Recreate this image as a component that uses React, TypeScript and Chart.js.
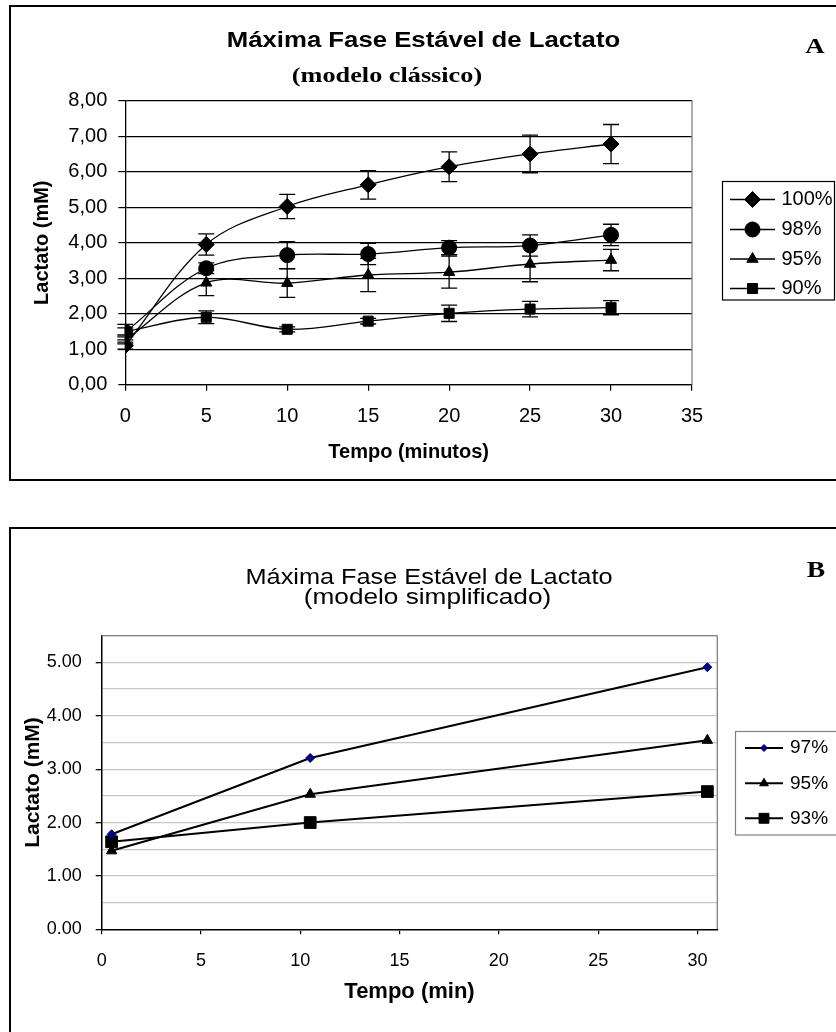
import React, { useEffect, useRef } from 'react';
import { Chart, registerables } from 'chart.js';
import { drawPoint } from 'chart.js/helpers';

Chart.register(...registerables);

// ---------- Data: chart A (modelo clássico) ----------
const timesA = [0, 5, 10, 15, 20, 25, 30];
const labelsA = ['100%', '98%', '95%', '90%'];
const seriesA100 = [1.1, 3.95, 5.02, 5.63, 6.14, 6.5, 6.78];
const seriesA98 = [1.48, 3.28, 3.65, 3.68, 3.86, 3.92, 4.22];
const seriesA95 = [1.25, 2.87, 2.86, 3.09, 3.17, 3.4, 3.51];
const seriesA90 = [1.5, 1.9, 1.56, 1.79, 2.01, 2.13, 2.17];
const errA100 = [0.1, 0.3, 0.34, 0.4, 0.42, 0.53, 0.55];
const errA98 = [0.22, 0.15, 0.38, 0.3, 0.2, 0.3, 0.3];
const errA95 = [0.1, 0.36, 0.4, 0.47, 0.45, 0.5, 0.3];
const errA90 = [0.1, 0.18, 0.07, 0.08, 0.23, 0.22, 0.2];
const yTicksA = ['0,00', '1,00', '2,00', '3,00', '4,00', '5,00', '6,00', '7,00', '8,00'];

// ---------- Data: chart B (modelo simplificado) ----------
const timesB = [0.5, 10.5, 30.5];
const labelsB = ['97%', '95%', '93%'];
const seriesB97 = [1.78, 3.21, 4.91];
const seriesB95 = [1.47, 2.53, 3.54];
const seriesB93 = [1.64, 2.0, 2.58];
const yTicksB = ['0.00', '1.00', '2.00', '3.00', '4.00', '5.00'];

const SANS = "Arial, 'Liberation Sans', sans-serif";
const SERIF = "'Times New Roman', 'Liberation Serif', serif";

function stretchedText(ctx: CanvasRenderingContext2D, text: string, cx: number, baseline: number, font: string, sx: number) {
  ctx.save();
  ctx.font = font;
  ctx.fillStyle = '#000';
  ctx.textAlign = 'center';
  ctx.textBaseline = 'alphabetic';
  ctx.translate(cx, baseline);
  ctx.scale(sx, 1);
  ctx.fillText(text, 0, 0);
  ctx.restore();
}

const headingPlugin = {
  id: 'heading',
  afterDraw(chart: any, _a: any, opts: any) {
    const ctx = chart.ctx;
    (opts.items || []).forEach((it: any) => stretchedText(ctx, it.text, it.x, it.y, it.font, it.sx));
  },
};

const errorBarPlugin = {
  id: 'errorBars',
  beforeDatasetsDraw(chart: any, _a: any, opts: any) {
    const { ctx } = chart;
    const xs = chart.scales.x;
    const ys = chart.scales.y;
    chart.data.datasets.forEach((ds: any) => {
      if (!ds.errors) return;
      ctx.save();
      ctx.strokeStyle = '#000';
      ctx.lineWidth = opts.lineWidth || 1.3;
      const cap = opts.cap || 7;
      ds.data.forEach((p: any, i: number) => {
        const e = ds.errors[i];
        const px = xs.getPixelForValue(p.x);
        const top = ys.getPixelForValue(p.y + e);
        const bot = ys.getPixelForValue(p.y - e);
        ctx.beginPath();
        ctx.moveTo(px, top);
        ctx.lineTo(px, bot);
        ctx.moveTo(px - cap, top);
        ctx.lineTo(px + cap, top);
        ctx.moveTo(px - cap, bot);
        ctx.lineTo(px + cap, bot);
        ctx.stroke();
      });
      ctx.restore();
    });
  },
};

const framePlugin = {
  id: 'frame',
  beforeDatasetsDraw(chart: any, _a: any, opts: any) {
    const { ctx, chartArea: a } = chart;
    ctx.save();
    ctx.strokeStyle = opts.color || '#808080';
    ctx.lineWidth = 1.3;
    ctx.beginPath();
    if (opts.top) {
      ctx.moveTo(a.left, a.top);
      ctx.lineTo(a.right, a.top);
    }
    ctx.moveTo(a.right, a.top);
    ctx.lineTo(a.right, a.bottom);
    ctx.stroke();
    ctx.restore();
  },
};

const boxLegendPlugin = {
  id: 'boxLegend',
  afterDraw(chart: any, _a: any, opts: any) {
    const { ctx } = chart;
    const b = opts.box;
    ctx.save();
    ctx.strokeStyle = opts.borderColor;
    ctx.lineWidth = 1.2;
    ctx.strokeRect(b.x, b.y, b.w, b.h);
    chart.data.datasets.forEach((ds: any, i: number) => {
      const yy = opts.rows[i];
      ctx.strokeStyle = '#000';
      ctx.lineWidth = opts.lineWidth;
      ctx.beginPath();
      ctx.moveTo(opts.lineX0, yy);
      ctx.lineTo(opts.lineX1, yy);
      ctx.stroke();
      ctx.fillStyle = ds.pointBackgroundColor;
      ctx.strokeStyle = ds.pointBorderColor;
      ctx.lineWidth = 1;
      drawPoint(ctx, { pointStyle: ds.pointStyle, radius: opts.radii[i], rotation: 0, borderWidth: 1 } as any, (opts.lineX0 + opts.lineX1) / 2, yy);
      ctx.fillStyle = '#000';
      ctx.font = opts.font;
      ctx.textAlign = 'left';
      ctx.textBaseline = 'middle';
      ctx.fillText(ds.label, opts.textX, yy);
    });
    ctx.restore();
  },
};

function pts(xs: number[], ys: number[]) {
  return xs.map((x, i) => ({ x, y: ys[i] }));
}

function lineDs(label: string, data: any[], style: string, radius: number, extra: any = {}) {
  return {
    label,
    data,
    pointStyle: style,
    pointRadius: radius,
    pointBackgroundColor: '#000',
    pointBorderColor: '#000',
    pointBorderWidth: 1,
    borderColor: '#000',
    backgroundColor: '#000',
    borderWidth: 1.3,
    fill: false,
    ...extra,
  };
}

export default function App() {
  const refA = useRef<HTMLCanvasElement>(null);
  const refB = useRef<HTMLCanvasElement>(null);

  useEffect(() => {
    const chartA = new Chart(refA.current as HTMLCanvasElement, {
      type: 'line',
      data: {
        datasets: [
          lineDs(labelsA[0], pts(timesA, seriesA100), 'rectRot', 8, { errors: errA100, tension: 0.35 }),
          lineDs(labelsA[1], pts(timesA, seriesA98), 'circle', 7.5, { errors: errA98, tension: 0.35 }),
          lineDs(labelsA[2], pts(timesA, seriesA95), 'triangle', 6.5, { errors: errA95, tension: 0.35 }),
          lineDs(labelsA[3], pts(timesA, seriesA90), 'rect', 7.1, { errors: errA90, tension: 0.35 }),
        ] as any,
      },
      options: {
        animation: false,
        responsive: false,
        maintainAspectRatio: false,
        layout: { padding: { left: 0, top: 100.7, right: 144, bottom: 0 } },
        plugins: {
          legend: { display: false },
          tooltip: { enabled: false },
          title: { display: false },
          errorBars: { lineWidth: 1.3, cap: 8 },
          frame: { color: '#808080', top: false },
          heading: {
            items: [
              { text: 'Máxima Fase Estável de Lactato', x: 423.5, y: 46.7, font: `bold 22px ${SANS}`, sx: 1.17 },
              { text: '(modelo clássico)', x: 387, y: 81.5, font: `bold 21px ${SERIF}`, sx: 1.25 },
              { text: 'A', x: 815, y: 53.3, font: `bold 22px ${SERIF}`, sx: 1.22 },
            ],
          },
          boxLegend: {
            box: { x: 722.5, y: 181.5, w: 112, h: 118.5 },
            rows: [199.5, 229.5, 259, 288.5],
            lineX0: 730,
            lineX1: 775,
            textX: 781.5,
            font: `20px ${SANS}`,
            radii: [8, 7.5, 6.5, 7.1],
            lineWidth: 1.3,
            borderColor: '#000',
          },
        } as any,
        scales: {
          x: {
            type: 'linear',
            min: 0,
            max: 35,
            afterFit: (s: any) => { s.height = 115.3; },
            ticks: { stepSize: 5, color: '#000', font: { family: SANS, size: 20 }, padding: 14, maxRotation: 0, autoSkip: false },
            grid: { drawOnChartArea: false, drawTicks: true, tickLength: 6, color: '#000', lineWidth: 1.2 },
            border: { color: '#000', width: 1.3 },
            title: { display: true, text: 'Tempo (minutos)', color: '#000', font: { family: SANS, size: 20, weight: 'bold' }, padding: { top: 0, bottom: 36 } },
          },
          y: {
            type: 'linear',
            min: 0,
            max: 8,
            afterFit: (s: any) => { s.width = 125.3; },
            ticks: { stepSize: 1, color: '#000', font: { family: SANS, size: 20 }, padding: 11, callback: (v: any) => yTicksA[Math.round(Number(v))] },
            grid: { color: '#000', lineWidth: 1.2, tickLength: 7 },
            border: { color: '#000', width: 1.3 },
            title: { display: true, text: 'Lactato (mM)', color: '#000', font: { family: SANS, size: 20, weight: 'bold' }, padding: { top: 30, bottom: 0 } },
          },
        } as any,
      },
      plugins: [errorBarPlugin, framePlugin, headingPlugin, boxLegendPlugin] as any,
    });

    const chartB = new Chart(refB.current as HTMLCanvasElement, {
      type: 'line',
      data: {
        datasets: [
          lineDs(labelsB[0], pts(timesB, seriesB97), 'rectRot', 4.5, { tension: 0, borderWidth: 2, pointBackgroundColor: '#000080', pointBorderColor: '#000080' }),
          lineDs(labelsB[1], pts(timesB, seriesB95), 'triangle', 6, { tension: 0, borderWidth: 2 }),
          lineDs(labelsB[2], pts(timesB, seriesB93), 'rect', 8.3, { tension: 0, borderWidth: 2 }),
        ] as any,
      },
      options: {
        animation: false,
        responsive: false,
        maintainAspectRatio: false,
        layout: { padding: { left: 0, top: 135.7, right: 118.7, bottom: 0 } },
        plugins: {
          legend: { display: false },
          tooltip: { enabled: false },
          title: { display: false },
          frame: { color: '#808080', top: true },
          heading: {
            items: [
              { text: 'Máxima Fase Estável de Lactato', x: 429, y: 84, font: `22px ${SANS}`, sx: 1.15 },
              { text: '(modelo simplificado)', x: 427.5, y: 103.5, font: `22px ${SANS}`, sx: 1.19 },
              { text: 'B', x: 816, y: 77.3, font: `bold 23px ${SERIF}`, sx: 1.2 },
            ],
          },
          boxLegend: {
            box: { x: 735.5, y: 231.5, w: 110, h: 103.5 },
            rows: [248, 283.3, 318.3],
            lineX0: 745,
            lineX1: 783,
            textX: 790,
            font: `19px ${SANS}`,
            radii: [3.5, 5, 7],
            lineWidth: 2,
            borderColor: '#808080',
          },
        } as any,
        scales: {
          x: {
            type: 'linear',
            min: 0,
            max: 31,
            afterFit: (s: any) => { s.height = 102.7; },
            ticks: { stepSize: 5, includeBounds: false, color: '#000', font: { family: SANS, size: 18 }, padding: 16, maxRotation: 0, autoSkip: false },
            grid: { drawOnChartArea: false, drawTicks: true, tickLength: 5, color: '#000', lineWidth: 1.2 },
            border: { color: '#000', width: 1.5 },
            title: { display: true, text: 'Tempo (min)', color: '#000', font: { family: SANS, size: 22, weight: 'bold' }, padding: { top: 0, bottom: 27 } },
          },
          y: {
            type: 'linear',
            min: 0,
            max: 5.5,
            afterFit: (s: any) => { s.width = 101.7; },
            ticks: {
              stepSize: 0.5,
              color: '#000',
              font: { family: SANS, size: 18 },
              padding: 14,
              callback: (v: any) => (Number.isInteger(Number(v)) ? yTicksB[Number(v)] : ''),
            },
            grid: {
              color: (c: any) => (c.tick && c.tick.value === 0 ? 'rgba(0,0,0,0)' : '#C8C8C8'),
              tickColor: (c: any) => (c.tick && Number.isInteger(c.tick.value) ? '#000' : 'rgba(0,0,0,0)'),
              lineWidth: 1.3,
              tickLength: 6,
            },
            border: { color: '#000', width: 1.5 },
            title: { display: true, text: 'Lactato (mM)', color: '#000', font: { family: SANS, size: 21, weight: 'bold' }, padding: { top: 21, bottom: 0 } },
          },
        } as any,
      },
      plugins: [framePlugin, headingPlugin, boxLegendPlugin] as any,
    });

    return () => {
      chartA.destroy();
      chartB.destroy();
    };
  }, []);

  return (
    <div style={{ position: 'absolute', left: 0, top: 0, width: 836, height: 1032, overflow: 'hidden', background: '#fff' }}>
      <div style={{ position: 'absolute', left: 9, top: 5, width: 850, height: 476, border: '2px solid #000', boxSizing: 'border-box' }} />
      <div style={{ position: 'absolute', left: 9, top: 527, width: 850, height: 540, border: '2px solid #000', boxSizing: 'border-box' }} />
      <canvas ref={refA} width={836} height={500} style={{ position: 'absolute', left: 0, top: 0 }} />
      <canvas ref={refB} width={836} height={532} style={{ position: 'absolute', left: 0, top: 500 }} />
    </div>
  );
}
